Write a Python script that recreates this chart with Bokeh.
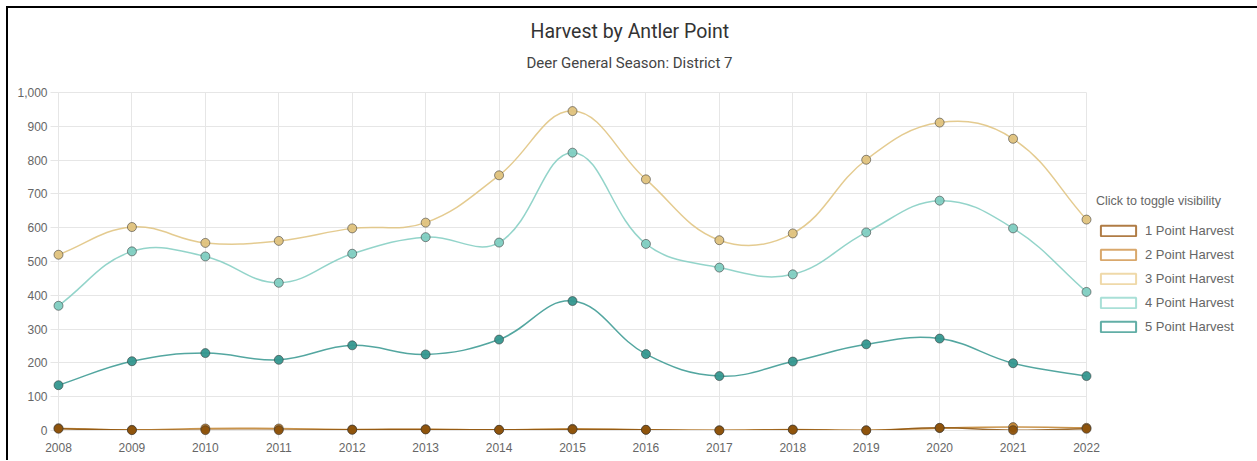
import math
from bokeh.plotting import figure
from bokeh.models import (Range1d, FixedTicker, NumeralTickFormatter, ColumnDataSource,
                          Legend, LegendItem, Title)
from bokeh.embed import file_html
from bokeh.resources import INLINE

# ---------------- data ----------------
years = [2008, 2009, 2010, 2011, 2012, 2013, 2014, 2015, 2016, 2017, 2018, 2019, 2020, 2021, 2022]
series_names = ["1 Point Harvest", "2 Point Harvest", "3 Point Harvest",
                "4 Point Harvest", "5 Point Harvest"]
pt1 = [5, 1, 1, 1, 2, 3, 2, 3, 2, 0, 2, 0, 8, 1, 5]
pt2 = [7, 2, 6, 6, 3, 4, 2, 5, 2, 1, 3, 1, 7, 10, 8]
pt3 = [520, 602, 555, 561, 598, 615, 755, 945, 743, 563, 583, 801, 911, 863, 624]
pt4 = [369, 530, 515, 437, 523, 572, 556, 822, 552, 482, 462, 586, 680, 598, 410]
pt5 = [134, 205, 229, 209, 252, 225, 269, 383, 226, 161, 204, 255, 272, 199, 161]
y_ticks = [0, 100, 200, 300, 400, 500, 600, 700, 800, 900, 1000]

series_values = [pt1, pt2, pt3, pt4, pt5]
line_colors = ["#8c510a", "#bf812d", "#dfc27d", "#80cdc1", "#35978f"]
legend_colors = ["#b07c45", "#d9a86c", "#efd9a9", "#a9e0d7", "#62aea6"]

GRID = "#e6e6e6"
TICK_TEXT = "#666666"

FRAME_W = 1028
FRAME_H = 338
SX = FRAME_W / 14.0
SY = FRAME_H / 1000.0
TENSION = 0.4


def spline_source(xs, ys):
    """Chart.js-style bezier control points (tension 0.4) computed in pixel space."""
    pts = [((x - xs[0]) * SX, y * SY) for x, y in zip(xs, ys)]
    n = len(pts)
    prev_cp, next_cp = [], []
    for i in range(n):
        p0 = pts[max(i - 1, 0)]
        p1 = pts[i]
        p2 = pts[min(i + 1, n - 1)]
        d01 = math.dist(p0, p1)
        d12 = math.dist(p1, p2)
        tot = d01 + d12
        s01 = d01 / tot if tot else 0.0
        s12 = d12 / tot if tot else 0.0
        fa, fb = TENSION * s01, TENSION * s12
        dx, dy = p2[0] - p0[0], p2[1] - p0[1]
        prev_cp.append((p1[0] - fa * dx, p1[1] - fa * dy))
        next_cp.append((p1[0] + fb * dx, p1[1] + fb * dy))

    def to_data(pt):
        x = pt[0] / SX + xs[0]
        y = pt[1] / SY
        return min(max(x, xs[0]), xs[-1]), min(max(y, 0.0), 1000.0)

    d = {k: [] for k in ("x0", "y0", "x1", "y1", "cx0", "cy0", "cx1", "cy1")}
    for i in range(n - 1):
        c0 = to_data(next_cp[i])
        c1 = to_data(prev_cp[i + 1])
        d["x0"].append(xs[i]); d["y0"].append(ys[i])
        d["x1"].append(xs[i + 1]); d["y1"].append(ys[i + 1])
        d["cx0"].append(c0[0]); d["cy0"].append(c0[1])
        d["cx1"].append(c1[0]); d["cy1"].append(c1[1])
    return ColumnDataSource(d)


p = figure(frame_width=FRAME_W, frame_height=FRAME_H,
           x_range=Range1d(years[0], years[-1]), y_range=Range1d(0, 1000),
           output_backend="svg", toolbar_location=None,
           min_border_left=52, min_border_right=170, min_border_top=86, min_border_bottom=30)
p.styles = {"margin-left": "6px", "margin-top": "6px",
            "box-shadow": "inset 2px 0 0 #000000, inset -2px 0 0 #000000, inset 0 2px 0 #000000"}
p.border_fill_alpha = 0
p.background_fill_color = "white"
p.outline_line_color = GRID
p.outline_line_width = 1

# grids
p.xgrid.ticker = FixedTicker(ticks=years)
p.ygrid.ticker = FixedTicker(ticks=y_ticks)
p.xgrid.grid_line_color = GRID
p.ygrid.grid_line_color = GRID

# axes
for ax in (p.xaxis[0], p.yaxis[0]):
    ax.axis_line_color = GRID
    ax.major_tick_line_color = GRID
    ax.major_tick_out = 8
    ax.major_tick_in = 0
    ax.minor_tick_line_color = None
    ax.major_label_text_color = TICK_TEXT
    ax.major_label_text_font = "Liberation Sans"
    ax.major_label_text_font_size = "12px"
p.xaxis[0].ticker = FixedTicker(ticks=years)
p.xaxis[0].major_label_standoff = 4
p.yaxis[0].ticker = FixedTicker(ticks=y_ticks)
p.yaxis[0].formatter = NumeralTickFormatter(format="0,0")
p.yaxis[0].major_label_standoff = 3

# series (drawn last-to-first so the first dataset is on top)
legend_renderers = {}
nan = float("nan")
for idx in reversed(range(len(series_values))):
    vals = series_values[idx]
    col = line_colors[idx]
    src = spline_source(years, vals)
    bz = p.bezier(x0="x0", y0="y0", x1="x1", y1="y1", cx0="cx0", cy0="cy0",
                  cx1="cx1", cy1="cy1", source=src,
                  line_color=col, line_width=1.5, line_alpha=0.85)
    sc = p.scatter(x=years, y=vals, size=9, fill_color=col, fill_alpha=0.95,
                   line_color="#333333", line_alpha=0.55, line_width=1, level="overlay")
    box = p.quad(left=[nan], right=[nan], top=[nan], bottom=[nan], fill_color="white",
                 line_color=legend_colors[idx], line_width=2)
    box.js_link("visible", bz, "visible")
    box.js_link("visible", sc, "visible")
    legend_renderers[idx] = box

legend = Legend(
    items=[LegendItem(label=series_names[i], renderers=[legend_renderers[i]])
           for i in range(len(series_values))],
    title="Click to toggle visibility",
    title_text_font="Liberation Sans", title_text_font_size="12.5px",
    title_text_font_style="normal", title_text_color=TICK_TEXT, title_standoff=12,
    label_text_font="Liberation Sans", label_text_font_size="13px",
    label_text_color=TICK_TEXT,
    glyph_width=44, glyph_height=13, label_standoff=5, label_height=20, spacing=4,
    margin=0, padding=0, location=(10, 94),
    background_fill_alpha=0, border_line_alpha=0, click_policy="hide",
)
p.add_layout(legend, "right")

# titles (closest to the plot first)
p.add_layout(Title(text=" ", text_font_size="1px", standoff=13), "above")
p.add_layout(Title(text="Deer General Season: District 7", align="left", offset=468,
                   text_font="Roboto", text_font_size="15px", text_font_style="normal",
                   text_color="#444444", standoff=10), "above")
p.add_layout(Title(text="Harvest by Antler Point", align="left", offset=472,
                   text_font="Roboto", text_font_size="19.5px", text_font_style="normal",
                   text_color="#333333", standoff=8), "above")

open("out.html", "w").write(file_html(p, INLINE))
